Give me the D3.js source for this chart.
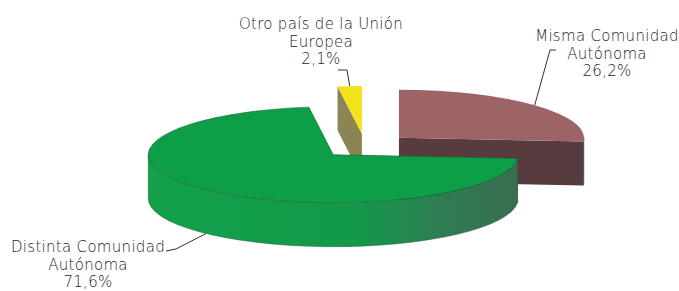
<!DOCTYPE html>
<html>
<head>
<meta charset="utf-8">
<script src="https://cdn.jsdelivr.net/npm/d3@7"></script>
<style>
  body { margin: 0; background: #fff; }
  text { font-family: "DejaVu Sans", sans-serif; font-size: 15px; font-weight: 300; letter-spacing: 0.3px; fill: #1c1c1c; }
</style>
</head>
<body>
<div id="chart"></div>
<script>
// data
const categories = ["Misma Comunidad Autónoma", "Distinta Comunidad Autónoma", "Otro país de la Unión Europea"];
const labelLines = [["Misma Comunidad", "Autónoma"], ["Distinta Comunidad", "Autónoma"], ["Otro país de la Unión", "Europea"]];
const values = [26.2, 71.6, 2.1];
const valueLabels = ["26,2%", "71,6%", "2,1%"];

const W = 679, H = 291;
const cx = 365, cy = 146;   // pie centre before explosion
const rx = 185, ry = 48;    // ellipse radii of top face
const depth = 44;
const explode = 0.25;

const topColors  = ["#9d6466", "#0d9f48", "#f4e21c"];
const sideColors = ["#583b3e", "url(#greenSide)", "#8b8455"];

// label placement (text centre, first baseline, leader start)
const labelLayout = [
  {x: 607, y: 41, tick: [[556, 50], [550, 50]], anchor: "top"},
  {x: 88,  y: 252, tick: [[166, 251], [176, 249]], anchor: "bottom"},
  {x: 321, y: 29, tick: [[338, 70], [347, 70]], anchor: "top"}
];
const lineGap = 17.5;

const svg = d3.select("#chart").append("svg")
    .attr("width", W)
    .attr("height", H);

const defs = svg.append("defs");
const grad = defs.append("linearGradient")
    .attr("id", "greenSide")
    .attr("gradientUnits", "userSpaceOnUse")
    .attr("x1", cx - rx).attr("x2", cx + rx * 0.9)
    .attr("y1", 0).attr("y2", 0);
[["0%", "#13a04b"], ["50%", "#12994a"], ["75%", "#2f7c53"], ["100%", "#3c6b51"]]
  .forEach(s => grad.append("stop").attr("offset", s[0]).attr("stop-color", s[1]));

const pie = d3.pie().sort(null).value(d => d);
const arcs = pie(values).map((d, i) => {
  const mid = (d.startAngle + d.endAngle) / 2;
  d.i = i;
  d.mid = mid;
  d.c = [cx + explode * rx * Math.sin(mid), cy - explode * ry * Math.cos(mid)];
  return d;
});

// point on the ellipse rim, angle clockwise from 12 o'clock
function pt(a, c, dy = 0) {
  return [c[0] + rx * Math.sin(a), c[1] - ry * Math.cos(a) + dy];
}
const P = p => p[0] + "," + p[1];

function topPath(d) {
  const large = d.endAngle - d.startAngle > Math.PI ? 1 : 0;
  return `M${P(d.c)}L${P(pt(d.startAngle, d.c))}A${rx},${ry} 0 ${large} 1 ${P(pt(d.endAngle, d.c))}Z`;
}
function wallPath(d) {
  const s = Math.max(d.startAngle, Math.PI / 2), e = Math.min(d.endAngle, Math.PI * 1.5);
  if (s >= e) return null;
  return `M${P(pt(s, d.c))}A${rx},${ry} 0 0 1 ${P(pt(e, d.c))}` +
         `L${P(pt(e, d.c, depth))}A${rx},${ry} 0 0 0 ${P(pt(s, d.c, depth))}Z`;
}
function facePath(d, a) {
  const c2 = [d.c[0], d.c[1] + depth];
  return `M${P(d.c)}L${P(pt(a, d.c))}L${P(pt(a, d.c, depth))}L${P(c2)}Z`;
}

// back slices first
const order = arcs.slice().sort((a, b) => a.c[1] - b.c[1]);

const slices = svg.append("g")
  .selectAll("g")
  .data(order)
  .join("g");

slices.each(function(d) {
  const g = d3.select(this);
  [d.endAngle, d.startAngle].forEach(a => {
    g.append("path")
      .attr("d", facePath(d, a))
      .attr("fill", sideColors[d.i]);
  });
  const w = wallPath(d);
  if (w) g.append("path")
      .attr("d", w)
      .attr("fill", sideColors[d.i])
      .attr("stroke", "#2c4a36")
      .attr("stroke-width", 0.4);
  g.append("path")
    .attr("d", topPath(d))
    .attr("fill", topColors[d.i])
    .attr("stroke", d.i === 1 ? "#1d5a34" : "none")
    .attr("stroke-width", 0.5);
});

// labels
const labels = svg.append("g");
arcs.forEach(d => {
  const L = labelLayout[d.i];
  const lines = labelLines[d.i].concat([valueLabels[d.i]]);
  labels.append("text")
    .attr("text-anchor", "middle")
    .selectAll("tspan")
    .data(lines)
    .join("tspan")
    .attr("x", L.x)
    .attr("y", (t, j) => L.y + j * lineGap)
    .text(t => t);

  const end = L.anchor === "top" ? pt(d.mid, d.c) : pt(d.mid, d.c, depth);
  labels.append("path")
    .attr("d", d3.line()(L.tick.concat([end])))
    .attr("fill", "none")
    .attr("stroke", "#333")
    .attr("stroke-width", 1);
});
</script>
</body>
</html>
